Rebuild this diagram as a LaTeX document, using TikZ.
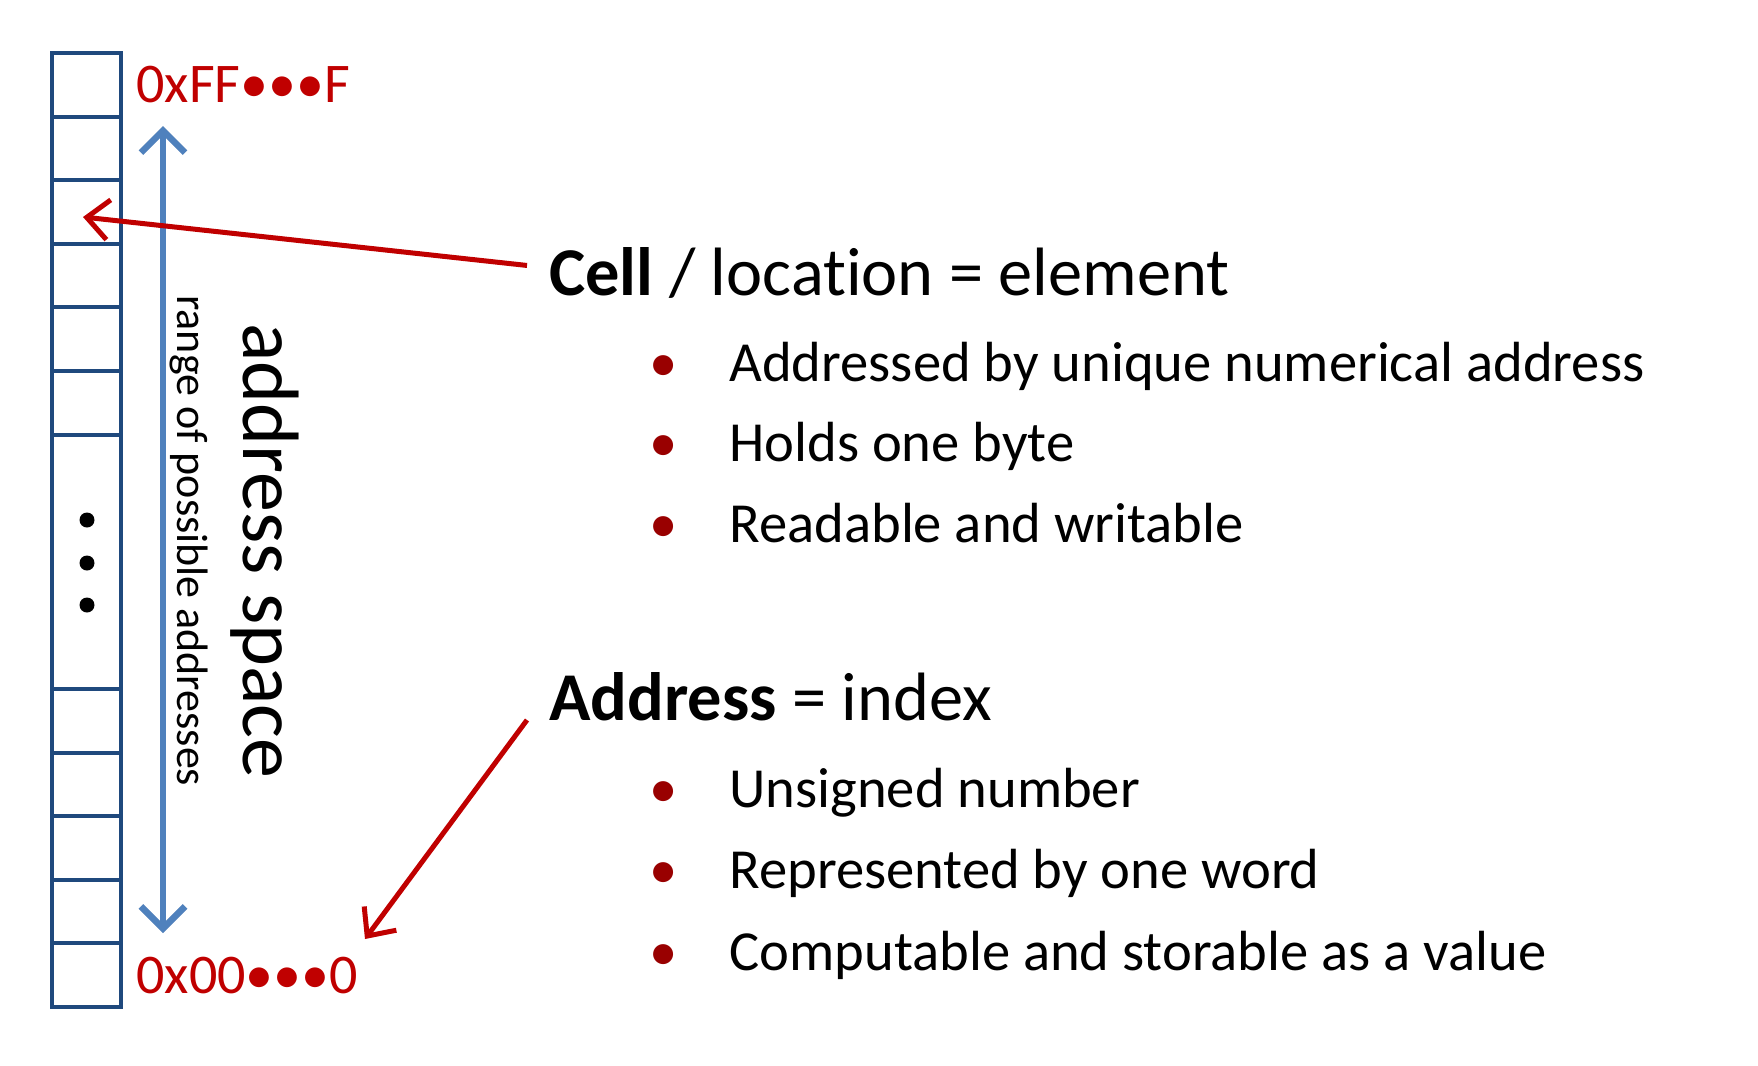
\documentclass[tikz,border=0pt]{standalone}
\usepackage{fontspec}
\setmainfont{Carlito}[Ligatures=NoCommon]
\usetikzlibrary{arrows.meta}
\definecolor{memblue}{HTML}{1F497D}
\definecolor{rangeblue}{HTML}{4F81BD}
\definecolor{ptrred}{HTML}{C00000}
\definecolor{bulletred}{HTML}{990000}

\begin{document}
\begin{tikzpicture}[x=0.5pt, y=-0.5pt,
  cellbox/.style={draw=memblue, line width=2pt},
  addrlbl/.style={text=ptrred, font=\fontsize{28pt}{33pt}\selectfont, anchor=base west, inner sep=0pt},
  heading/.style={font=\fontsize{34.2pt}{40pt}\selectfont, anchor=base west, inner sep=0pt},
  item/.style={font=\fontsize{28.3pt}{34pt}\selectfont, anchor=base west, inner sep=0pt},
  vlabel/.style={rotate=-90, anchor=base west, inner sep=0pt},
  pointer/.style={ptrred, line width=2.5pt, -{Straight Barb[length=11pt, width=20pt]}},
  rangearrow/.style={rangeblue, line width=3.2pt, {Straight Barb[length=11pt, width=22pt]}-{Straight Barb[length=11pt, width=22pt]}},
]
\useasboundingbox (0,0) rectangle (1758,1066);

% memory cells
\foreach \k in {0,...,5,10,11,...,14}
  \draw[cellbox] (52,{53+63.6*\k}) rectangle (121,{53+63.6*(\k+1)});
\draw[cellbox] (52,{53+63.6*6}) rectangle (121,{53+63.6*10});
\foreach \y in {520,563,605}
  \fill (87,\y) circle[radius=3.75pt];

% address range
\coordinate (rngtop) at (163,126);
\coordinate (rngbot) at (163,933);
\draw[rangearrow, black, opacity=0.12, xshift=1.5pt, yshift=-1.5pt] (rngtop) -- (rngbot);
\draw[rangearrow] (rngtop) -- (rngbot);
\node[addrlbl] (hiaddr) at (136,102) {0xFF•••F};
\node[addrlbl] (loaddr) at (136,993) {0x00•••0};
\node[vlabel, font=\fontsize{40pt}{48pt}\selectfont] (space) at (243,323) {address space};
\node[vlabel, font=\fontsize{22pt}{26pt}\selectfont] (range) at (177,295) {range of possible addresses};

% cell
\node[heading] (cellhd) at (549,295) {\textbf{Cell} / location = element};
\foreach \txt [count=\i] in {Addressed by unique numerical address, Holds one byte, Readable and writable}
  \node[item] (cellitem\i) at (729,{381+80.5*(\i-1)}) {\llap{\textcolor{bulletred}{•}\hspace{26pt}}\txt};

% address
\node[heading] (addrhd) at (549,720) {\textbf{Address} = index};
\foreach \txt [count=\i] in {Unsigned number, Represented by one word, Computable and storable as a value}
  \node[item] (addritem\i) at (729,{807+81.5*(\i-1)}) {\llap{\textcolor{bulletred}{•}\hspace{26pt}}\txt};

\coordinate (cellptr) at (83,217);
\coordinate (addrptr) at (365,939);
\draw[pointer] ([xshift=-11pt, yshift=3.5pt]cellhd.west) -- (cellptr);
\draw[pointer] ([xshift=-11pt]addrhd.base west) -- (addrptr);
\end{tikzpicture}
\end{document}
